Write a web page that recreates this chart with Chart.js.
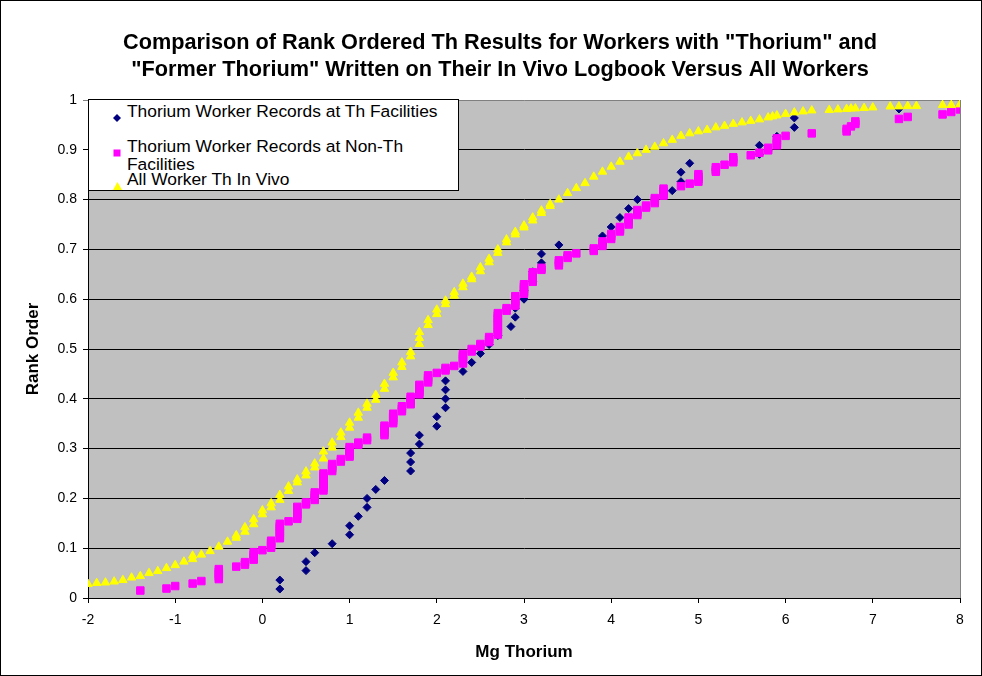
<!DOCTYPE html>
<html>
<head>
<meta charset="utf-8">
<script src="https://cdn.jsdelivr.net/npm/chart.js@4/dist/chart.umd.min.js"></script>
<style>
html,body{margin:0;padding:0;background:#fff;}
#wrap{position:relative;width:982px;height:676px;}
#legend{position:absolute;left:88px;top:99px;width:369px;height:90px;background:#fff;border:1px solid #000;
  font-family:'Liberation Sans',Arial,sans-serif;font-size:17.4px;color:#000;line-height:18px;}
#legend .mk{position:absolute;left:24px;}
#legend .tx{position:absolute;left:38px;width:330px;white-space:normal;}
</style>
</head>
<body>
<div id="wrap">
<canvas id="c" width="982" height="676"></canvas>
<div id="legend"></div>
</div>
<script>
// ---- data ----
const seriesLabels = [
  'Thorium Worker Records at Th Facilities',
  'Thorium Worker Records at Non-Th Facilities',
  'All Worker Th In Vivo'
];
const titleLines = [
  'Comparison of Rank Ordered Th Results for Workers with "Thorium" and',
  '"Former Thorium" Written on Their In Vivo Logbook Versus All Workers'
];
const xAxisTitle = 'Mg Thorium';
const yAxisTitle = 'Rank Order';

const blueX = [0.2,0.2,0.5,0.5,0.6,0.8,1.0,1.0,1.1,1.2,1.2,1.3,1.4,1.7,1.7,1.7,1.8,1.8,2.0,2.0,
  2.1,2.1,2.1,2.1,2.3,2.4,2.5,2.6,2.7,2.85,2.9,2.9,3.0,3.0,3.1,3.1,3.2,3.2,3.4,3.9,
  4.0,4.1,4.2,4.3,4.7,4.8,4.8,4.9,5.7,5.7,5.9,6.1,6.1,7.3];
const blueY = [0.018,0.036,0.055,0.073,0.091,0.109,0.127,0.145,0.164,0.182,0.2,0.218,0.236,0.255,0.273,0.291,0.309,0.327,0.345,0.364,
  0.382,0.4,0.418,0.436,0.455,0.473,0.491,0.509,0.527,0.545,0.564,0.582,0.6,0.618,0.636,0.655,0.673,0.691,0.709,0.727,
  0.745,0.764,0.782,0.8,0.818,0.836,0.855,0.873,0.891,0.909,0.927,0.945,0.964,0.982];

const pinkX = [-1.4,-1.1,-1.0,-0.8,-0.7,
  -0.5,-0.5,-0.5,-0.5,-0.5,
  -0.3,-0.2,-0.2,-0.1,-0.1,-0.1,-0.1,0.0,
  0.1,0.1,0.1,0.1,
  0.2,0.2,0.2,0.2,0.2,0.2,0.2,
  0.3,0.4,0.4,0.4,0.4,0.4,0.4,0.5,0.5,
  0.6,0.6,0.6,0.6,
  0.7,0.7,0.7,0.7,0.7,0.7,0.7,0.7,
  0.8,0.8,0.8,0.8,0.9,0.9,
  1.0,1.0,1.0,1.0,1.0,1.1,1.1,1.2,1.2,
  1.4,1.4,1.4,1.4,1.4,1.5,1.5,1.5,1.5,1.5,
  1.6,1.6,1.6,1.7,1.7,1.7,1.7,
  1.8,1.8,1.8,1.8,1.8,1.9,1.9,1.9,1.9,
  2.0,2.1,2.1,2.2,2.3,2.3,2.3,2.3,2.3,2.4,2.4,2.5,2.5,2.6,2.6,2.6,
  2.7,2.7,2.7,2.7,2.7,2.7,2.7,2.7,2.7,2.7,
  2.8,2.8,2.9,2.9,2.9,2.9,2.9,3.0,3.0,3.0,3.0,3.0,
  3.1,3.1,3.1,3.1,3.1,3.2,3.2,3.4,3.4,3.4,3.5,3.5,3.6,
  3.8,3.8,3.9,3.9,3.9,4.0,4.0,4.0,4.1,4.1,4.1,
  4.2,4.2,4.2,4.2,4.3,4.3,4.3,4.4,4.4,4.5,4.5,4.5,
  4.6,4.6,4.6,4.6,4.8,4.9,5.0,5.0,5.0,5.0,
  5.2,5.2,5.2,5.3,5.4,5.4,5.4,5.6,5.7,5.8,5.8,
  5.9,5.9,5.9,5.9,6.0,6.3,6.7,6.7,6.75,6.8,6.8,
  7.3,7.4,7.8,7.9,8.0];
const pinkY = [0.015,0.019,0.024,0.029,0.034,
  0.038,0.043,0.048,0.053,0.058,
  0.063,0.067,0.072,0.077,0.082,0.087,0.092,0.096,
  0.101,0.106,0.111,0.115,
  0.12,0.125,0.13,0.135,0.14,0.144,0.149,
  0.154,0.159,0.164,0.168,0.173,0.178,0.183,0.188,0.192,
  0.197,0.202,0.207,0.212,
  0.216,0.221,0.226,0.231,0.236,0.24,0.245,0.25,
  0.255,0.26,0.264,0.269,0.274,0.279,
  0.284,0.288,0.293,0.298,0.303,0.308,0.312,0.317,0.322,
  0.327,0.332,0.337,0.341,0.346,0.351,0.356,0.361,0.365,0.37,
  0.375,0.38,0.385,0.389,0.394,0.399,0.404,
  0.409,0.413,0.418,0.423,0.428,0.433,0.437,0.442,0.447,
  0.452,0.457,0.462,0.466,0.471,0.476,0.481,0.486,0.49,0.495,0.5,0.505,0.51,0.514,0.519,0.524,
  0.529,0.534,0.538,0.543,0.548,0.553,0.558,0.562,0.567,0.572,
  0.577,0.582,0.587,0.591,0.596,0.601,0.606,0.611,0.615,0.62,0.625,0.63,
  0.635,0.639,0.644,0.649,0.654,0.659,0.663,0.668,0.673,0.678,0.683,0.688,0.692,
  0.697,0.702,0.707,0.712,0.716,0.721,0.726,0.731,0.736,0.74,0.745,
  0.75,0.755,0.76,0.764,0.769,0.774,0.779,0.784,0.788,0.793,0.798,0.803,
  0.808,0.812,0.817,0.822,0.827,0.832,0.836,0.841,0.846,0.851,
  0.856,0.86,0.865,0.87,0.875,0.88,0.885,0.889,0.894,0.899,0.904,
  0.909,0.913,0.918,0.923,0.928,0.933,0.937,0.942,0.947,0.952,0.957,
  0.962,0.966,0.971,0.976,0.981];

const yellowX = [-2.0,-1.9,-1.8,-1.7,-1.6,-1.5,-1.4,-1.3,-1.2,-1.1,-1.0,-0.9,-0.8,-0.8,-0.7,-0.6,-0.5,-0.4,
  -0.3,-0.3,-0.2,-0.2,-0.1,-0.1,0.0,0.0,0.1,0.1,0.2,0.2,0.3,0.3,0.4,0.4,0.5,0.5,0.6,0.6,0.7,0.7,
  0.8,0.8,0.9,0.9,1.0,1.0,1.1,1.1,1.2,1.2,1.3,1.3,1.4,1.4,1.5,1.5,1.6,1.6,1.7,1.7,
  1.8,1.8,1.8,1.9,1.9,2.0,2.0,2.1,2.1,2.2,2.2,2.3,2.3,2.4,2.4,2.5,2.5,2.6,2.6,2.7,2.7,
  2.8,2.8,2.9,2.9,3.0,3.0,3.1,3.1,3.2,3.2,3.3,3.3,
  3.4,3.5,3.6,3.7,3.8,3.9,4.0,4.1,4.2,4.3,4.4,4.5,4.6,4.7,4.8,4.9,5.0,5.1,5.2,5.3,5.4,5.5,5.6,5.7,
  5.8,5.85,5.9,6.0,6.1,6.2,6.3,6.5,6.6,6.7,6.75,6.8,6.9,7.0,7.2,7.3,7.4,7.5,7.8,7.9,8.0];
const yellowY = [0.028,0.03,0.031,0.033,0.036,0.041,0.044,0.05,0.054,0.06,0.066,0.073,0.078,0.085,0.087,0.094,0.103,0.113,
  0.121,0.126,0.133,0.142,0.148,0.158,0.168,0.176,0.182,0.19,0.197,0.207,0.215,0.224,0.232,0.238,0.246,0.254,0.262,0.27,0.28,0.294,
  0.302,0.312,0.323,0.332,0.342,0.352,0.362,0.372,0.382,0.39,0.398,0.408,0.42,0.43,0.443,0.452,0.464,0.473,0.485,0.494,
  0.51,0.522,0.534,0.548,0.558,0.57,0.579,0.59,0.597,0.607,0.614,0.624,0.631,0.64,0.645,0.656,0.664,0.674,0.681,0.693,0.7,
  0.714,0.72,0.73,0.735,0.744,0.748,0.758,0.764,0.773,0.778,0.787,0.791,
  0.8,0.813,0.823,0.833,0.846,0.856,0.866,0.876,0.886,0.893,0.9,0.906,0.913,0.92,0.928,0.933,0.937,0.94,0.945,0.948,0.952,0.955,0.958,0.961,
  0.965,0.967,0.969,0.972,0.975,0.977,0.979,0.98,0.981,0.982,0.983,0.983,0.984,0.985,0.987,0.987,0.988,0.988,0.99,0.99,0.991];

const seriesColors = ['#000080', '#FF00FF', '#FFFF00'];
const seriesShapes = ['rectRot', 'rect', 'triangle'];

// ---- chart ----
const FONT = "'Liberation Sans', Arial, Helvetica, sans-serif";
Chart.defaults.font.family = FONT;
Chart.defaults.color = '#000';

const toPts = (xs, ys) => xs.map((x, i) => ({x: x, y: ys[i]}));

const decor = {
  id: 'decor',
  beforeDraw(chart) {
    const {ctx, chartArea: a} = chart;
    ctx.save();
    ctx.fillStyle = '#fff';
    ctx.fillRect(0, 0, chart.width, chart.height);
    ctx.fillStyle = '#C0C0C0';
    ctx.fillRect(a.left, a.top, a.right - a.left, a.bottom - a.top);
    ctx.restore();
  },
  beforeDatasetsDraw(chart) {
    const {ctx, chartArea: a} = chart;
    ctx.save();
    ctx.strokeStyle = '#808080';
    ctx.lineWidth = 1;
    ctx.beginPath();
    ctx.moveTo(Math.round(a.right) + 0.5, a.top);
    ctx.lineTo(Math.round(a.right) + 0.5, a.bottom);
    ctx.stroke();
    ctx.restore();
  },
  afterDraw(chart) {
    const ctx = chart.ctx;
    ctx.save();
    ctx.strokeStyle = '#000';
    ctx.lineWidth = 1;
    ctx.strokeRect(0.5, 0.5, chart.width - 1, chart.height - 1);
    ctx.restore();
  }
};

const titleShift = {
  id: 'titleShift',
  afterLayout(chart) {
    if (chart.titleBlock) { chart.titleBlock.left += 40; }
  }
};

const chart = new Chart(document.getElementById('c'), {
  type: 'scatter',
  data: {
    datasets: [
      {label: seriesLabels[0], data: toPts(blueX, blueY), pointStyle: seriesShapes[0], pointRadius: 4,
       backgroundColor: seriesColors[0], borderColor: seriesColors[0], borderWidth: 1, order: 3},
      {label: seriesLabels[1], data: toPts(pinkX, pinkY), pointStyle: seriesShapes[1], pointRadius: 5.3,
       backgroundColor: seriesColors[1], borderColor: seriesColors[1], borderWidth: 1, order: 2},
      {label: seriesLabels[2], data: toPts(yellowX, yellowY), pointStyle: seriesShapes[2], pointRadius: 4.9,
       backgroundColor: seriesColors[2], borderColor: seriesColors[2], borderWidth: 1, order: 1}
    ]
  },
  options: {
    responsive: false,
    animation: false,
    devicePixelRatio: 1,
    events: [],
    layout: {padding: {left: 0, right: 22, top: 0, bottom: 0}},
    plugins: {
      legend: {display: false},
      tooltip: {enabled: false},
      title: {
        display: true, text: titleLines, color: '#000',
        font: {family: FONT, size: 21.7, weight: 'bold', lineHeight: 27 / 21.7},
        padding: {top: 30, bottom: 16}
      }
    },
    scales: {
      x: {
        type: 'linear', min: -2, max: 8,
        ticks: {stepSize: 1, font: {size: 14}, color: '#000', padding: 9, maxRotation: 0, autoSkip: false},
        grid: {drawOnChartArea: false, drawTicks: true, tickLength: 5, color: '#000'},
        border: {color: '#000', width: 1},
        title: {display: true, text: xAxisTitle, color: '#000', font: {size: 17, weight: 'bold'}, padding: {top: 0, bottom: 13}},
        afterFit(s) { s.height = 78; }
      },
      y: {
        type: 'linear', min: 0, max: 1,
        ticks: {stepSize: 0.1, font: {size: 14}, color: '#000', padding: 6,
                callback: (v) => String(Math.round(v * 10) / 10)},
        grid: {color: (c) => (c.tick && c.tick.value === 1 ? '#808080' : '#000'), tickLength: 5, drawTicks: true},
        border: {color: '#000', width: 1},
        title: {display: true, text: yAxisTitle, color: '#000', font: {size: 17, weight: 'bold'}, padding: {top: 23, bottom: 0}},
        afterFit(s) { s.width = 88; }
      }
    }
  },
  plugins: [decor, titleShift]
});

// ---- HTML legend built from the chart's datasets ----
function markerSvg(shape, color) {
  if (shape === 'rectRot') return '<svg width="8" height="8"><polygon points="4,0 8,4 4,8 0,4" fill="' + color + '"/></svg>';
  if (shape === 'rect') return '<svg width="8" height="8"><rect x="0.5" y="0.5" width="7" height="7" fill="' + color + '"/></svg>';
  return '<svg width="9" height="8"><polygon points="4.5,0 9,8 0,8" fill="' + color + '"/></svg>';
}
const rowTops = [2, 37, 70];
const leg = document.getElementById('legend');
chart.data.datasets.forEach((ds, i) => {
  const mk = document.createElement('div');
  mk.className = 'mk';
  mk.style.top = (rowTops[i] + 5) + 'px';
  mk.innerHTML = markerSvg(ds.pointStyle, ds.backgroundColor);
  const tx = document.createElement('div');
  tx.className = 'tx';
  tx.style.top = rowTops[i] + 'px';
  tx.textContent = ds.label;
  leg.appendChild(mk);
  leg.appendChild(tx);
});
</script>
</body>
</html>
